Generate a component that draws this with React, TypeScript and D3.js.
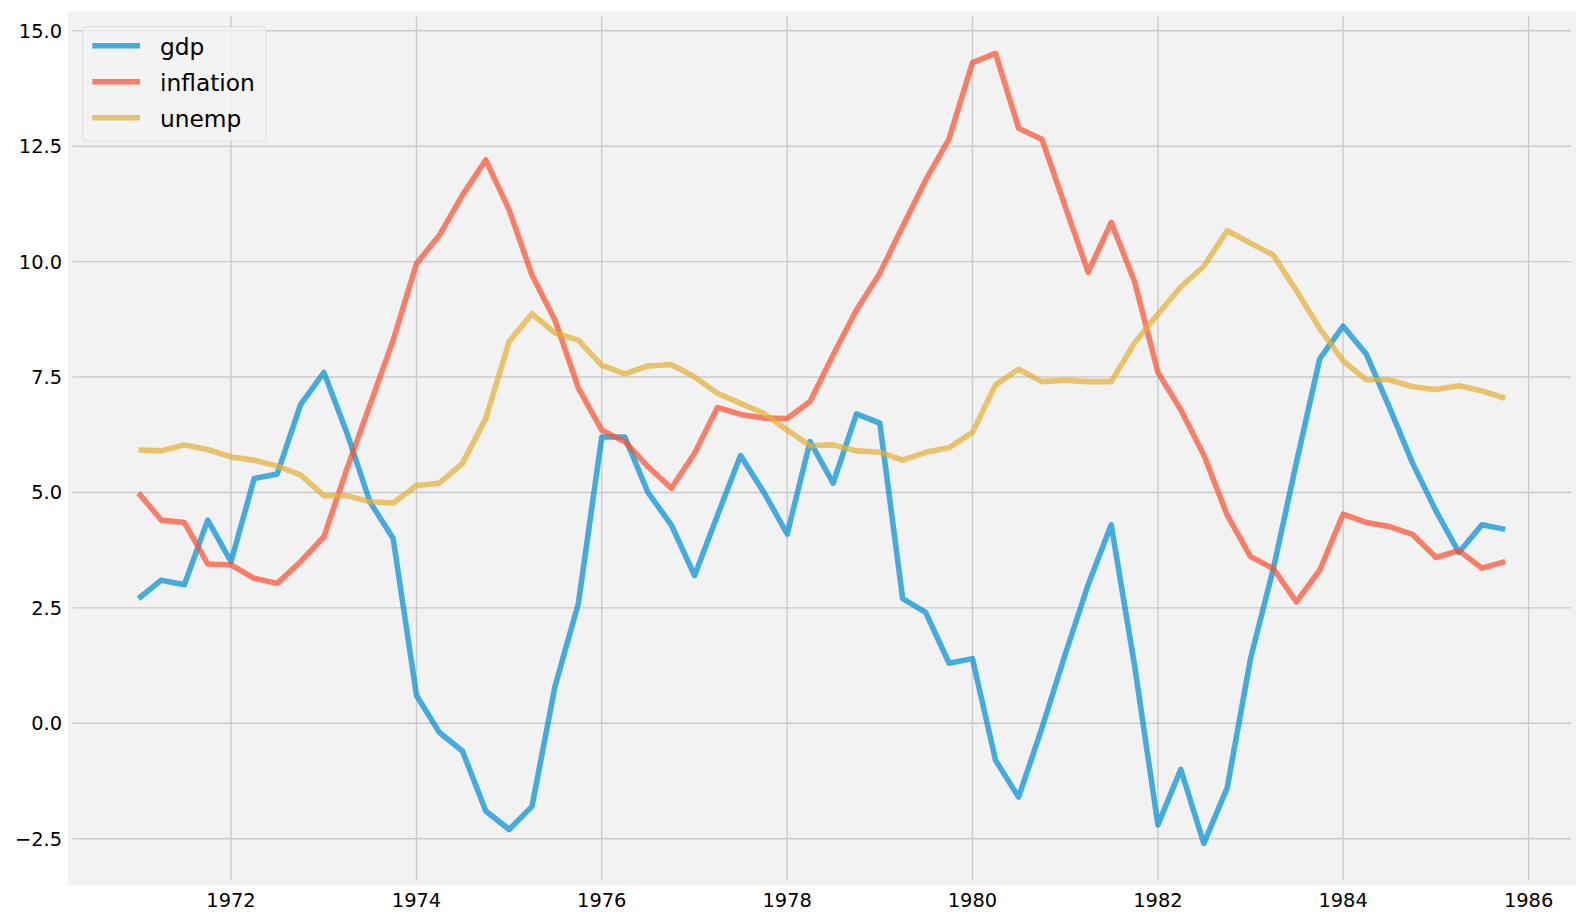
import React from "react";
import * as d3 from "d3";

const startYear = 1971;
const nQuarters = 60;
const quarters: Date[] = d3.range(nQuarters).map(
  (i) => new Date(startYear + Math.floor(i / 4), (i % 4) * 3, 1)
);

const gdp = [
  2.7, 3.1, 3.0, 4.4, 3.5, 5.3, 5.4, 6.9, 7.6, 6.3, 4.8, 4.0,
  0.6, -0.2, -0.6, -1.9, -2.3, -1.8, 0.8, 2.6, 6.2, 6.2, 5.0, 4.3,
  3.2, 4.5, 5.8, 5.0, 4.1, 6.1, 5.2, 6.7, 6.5, 2.7, 2.4, 1.3,
  1.4, -0.8, -1.6, -0.1, 1.5, 3.0, 4.3, 1.25, -2.2, -1.0, -2.6, -1.4,
  1.4, 3.35, 5.65, 7.9, 8.6, 8.0, 6.85, 5.63, 4.6, 3.7, 4.3, 4.2,
];
const inflation = [
  4.99, 4.4, 4.35, 3.45, 3.43, 3.14, 3.03, 3.5, 4.04, 5.5, 6.89, 8.3,
  9.96, 10.57, 11.44, 12.2, 11.12, 9.71, 8.73, 7.26, 6.35, 6.1, 5.56, 5.09,
  5.85, 6.84, 6.69, 6.61, 6.6, 6.97, 7.98, 8.95, 9.75, 10.76, 11.77, 12.66,
  14.31, 14.51, 12.89, 12.65, 11.19, 9.77, 10.85, 9.57, 7.6, 6.79, 5.81, 4.51,
  3.61, 3.35, 2.63, 3.32, 4.53, 4.35, 4.26, 4.09, 3.59, 3.74, 3.36, 3.5,
];
const unemp = [
  5.92, 5.9, 6.03, 5.93, 5.77, 5.7, 5.57, 5.38, 4.93, 4.93, 4.8, 4.77,
  5.15, 5.2, 5.63, 6.6, 8.27, 8.87, 8.45, 8.3, 7.75, 7.57, 7.74, 7.77,
  7.5, 7.15, 6.93, 6.71, 6.35, 6.01, 6.03, 5.9, 5.87, 5.7, 5.87, 5.97,
  6.3, 7.33, 7.67, 7.4, 7.43, 7.4, 7.4, 8.24, 8.86, 9.45, 9.9, 10.67,
  10.4, 10.14, 9.37, 8.55, 7.85, 7.44, 7.44, 7.29, 7.23, 7.31, 7.2, 7.04,
];

const seriesNames = ["gdp", "inflation", "unemp"];
const seriesValues = [gdp, inflation, unemp];
const seriesColors = ["#008fd5", "#fc4f30", "#e5ae38"];

const yTicks = [-2.5, 0, 2.5, 5, 7.5, 10, 12.5, 15];
const xTickYears = [1972, 1974, 1976, 1978, 1980, 1982, 1984, 1986];

const W = 1587;
const H = 924;
const AX = { left: 70.1, right: 1573.6, top: 13.9, bottom: 882.8 };
const FONT = "'DejaVu Sans', sans-serif";
const LINE_ALPHA = 0.72;

export default function App() {
  const first = quarters[0].getTime();
  const last = quarters[quarters.length - 1].getTime();
  const pad = (last - first) * 0.05;
  const x = d3
    .scaleTime()
    .domain([new Date(first - pad), new Date(last + pad)])
    .range([AX.left, AX.right]);
  const y = d3.scaleLinear().domain([-3.4555, 15.3655]).range([AX.bottom, AX.top]);

  const line = d3
    .line<number>()
    .x((_, i) => x(quarters[i]))
    .y((d) => y(d));

  const fmt = (v: number) => (v < 0 ? "\u2212" + Math.abs(v).toFixed(1) : v.toFixed(1));

  return (
    <svg
      width={W}
      height={H}
      style={{ position: "absolute", left: 0, top: 0, background: "#ffffff" }}
    >
      <rect x={0} y={0} width={W} height={H} fill="#ffffff" />
      <rect
        x={AX.left}
        y={AX.top}
        width={AX.right - AX.left}
        height={AX.bottom - AX.top}
        fill="#f2f2f2"
      />
      {yTicks.map((t) => (
        <line
          key={"gy" + t}
          x1={AX.left}
          x2={AX.right}
          y1={y(t)}
          y2={y(t)}
          stroke="#cbcbcb"
          strokeWidth={1.4}
        />
      ))}
      {xTickYears.map((yr) => (
        <line
          key={"gx" + yr}
          x1={x(new Date(yr, 0, 1))}
          x2={x(new Date(yr, 0, 1))}
          y1={AX.top}
          y2={AX.bottom}
          stroke="#cbcbcb"
          strokeWidth={1.4}
        />
      ))}
      <rect
        x={AX.left}
        y={AX.top}
        width={AX.right - AX.left}
        height={AX.bottom - AX.top}
        fill="none"
        stroke="#f2f2f2"
        strokeWidth={5}
      />
      {seriesValues.map((vals, k) => (
        <path
          key={seriesNames[k]}
          d={line(vals) || ""}
          fill="none"
          stroke={seriesColors[k]}
          strokeOpacity={LINE_ALPHA}
          strokeWidth={5.56}
          strokeLinejoin="round"
          strokeLinecap="butt"
        />
      ))}
      {yTicks.map((t) => (
        <text
          key={"ly" + t}
          x={62}
          y={y(t) + 7}
          textAnchor="end"
          fontFamily={FONT}
          fontSize={19.4}
          fill="#000"
        >
          {fmt(t)}
        </text>
      ))}
      {xTickYears.map((yr) => (
        <text
          key={"lx" + yr}
          x={x(new Date(yr, 0, 1))}
          y={906.5}
          textAnchor="middle"
          fontFamily={FONT}
          fontSize={19.4}
          fill="#000"
        >
          {yr}
        </text>
      ))}
      <rect
        x={82.7}
        y={26.7}
        width={183.3}
        height={114.3}
        rx={4}
        ry={4}
        fill="#f2f2f2"
        fillOpacity={0.8}
        stroke="#d8d8d8"
        strokeWidth={0.8}
      />
      {seriesNames.map((name, k) => (
        <g key={"leg" + name}>
          <line
            x1={92.3}
            x2={140}
            y1={45.7 + k * 36}
            y2={45.7 + k * 36}
            stroke={seriesColors[k]}
            strokeOpacity={LINE_ALPHA}
            strokeWidth={5.56}
          />
          <text
            x={160}
            y={45.7 + k * 36 + 9}
            fontFamily={FONT}
            fontSize={23.3}
            fill="#000"
          >
            {name}
          </text>
        </g>
      ))}
    </svg>
  );
}
